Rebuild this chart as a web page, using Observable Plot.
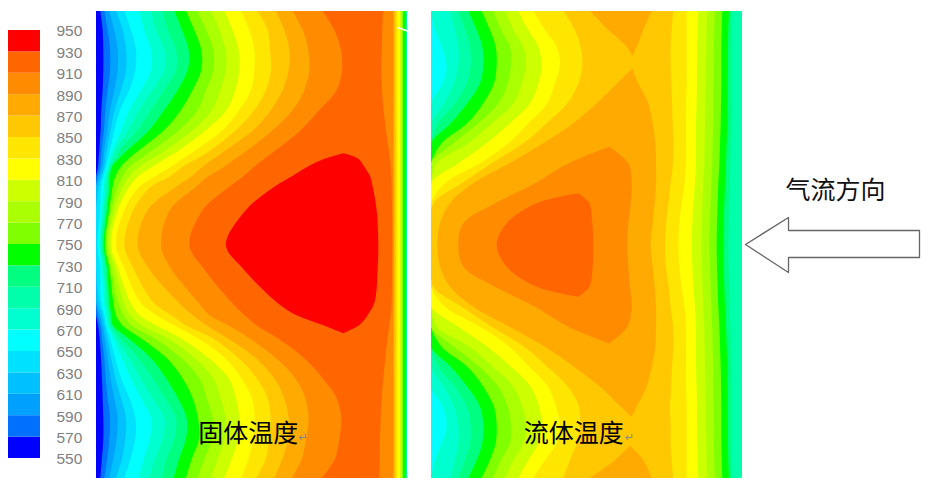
<!DOCTYPE html>
<html><head><meta charset="utf-8">
<script src="https://cdn.jsdelivr.net/npm/d3@7"></script>
<script src="https://cdn.jsdelivr.net/npm/@observablehq/plot@0.6"></script>
<style>
html,body{margin:0;padding:0;background:#fff;width:933px;height:485px;overflow:hidden}
#page{position:relative;width:933px;height:485px}
#page>svg{position:absolute;display:block;background:transparent}
</style></head><body><div id="page"></div>
<script>
// Temperature band limits and their colours, cold to hot
const bandLimits=[550,570,590,610,630,650,670,690,710,730,750,770,790,810,830,850,870,890,910,930,950];
const bandColors=["#0000ff","#0070ff","#00a0ff","#00c0ff","#00e0ff","#00ffff","#00ffd0","#00ffaa","#00ff80","#00ff00","#80ff00","#aaff00","#ccff00","#ffff00","#ffe600","#ffc800","#ffaa00","#ff8c00","#ff6600","#ff0000"];

// Each row: [height, value at left edge, x where each rising isotherm is met,
//            x of row maximum, row maximum, x where each falling isotherm is met, value at right edge]
const solidWall=[895,900,905,912,915,918,921,928,932];
const solidRows=[
[3,552,[13,25,40,60,85,130,165,200,235,270,305,345,385,435,485,540,590,680],770,922,[861,891],705],
[60,553,[20,35,55,80,105,145,180,215,258,295,330,370,410,460,515,565,620,715],790,924,[859,891],705],
[120,553,[22,42,65,90,120,165,205,240,278,316,352,388,428,475,522,580,637,735],795,925,[857,891],705],
[180,553,[22,42,65,90,118,165,205,240,275,316,352,390,430,475,525,578,640,738],795,926,[856,891],705],
[240,553,[20,35,55,75,100,135,170,205,245,290,330,372,418,465,510,560,625,722],790,926,[858,891],705],
[300,553,[16,28,42,56,72,100,130,165,205,255,305,348,392,430,475,525,590,670],780,926,[863,891],705],
[360,553,[14,24,34,44,56,76,98,125,160,205,250,290,330,380,420,472,530,615],765,926,[870,892],705],
[420,553,[10,17,25,33,42,50,60,72,95,130,170,210,250,300,345,390,455,540],745,925,[878,892],705],
[445,555,[8,15,22,29,36,42,50,60,70,100,135,170,210,262,305,355,420,507,690],740,938,[785,882,892],705],
[470,558,[6,13,19,25,30,35,40,44,48,75,100,130,170,225,260,320,385,475,635],740,942,[805,884,892],705],
[500,585,[4,10,16,22,27,32,36,42,58,80,100,125,175,220,285,335,440,585],730,945,[823,886,892],705],
[530,625,[8,15,24,30,36,40,50,65,80,100,130,165,240,300,400,535],700,947,[830,887,893],705],
[600,630,[12,18,23,28,33,40,46,55,66,85,112,155,222,320,450],680,948,[842,888,893],705],
[705,635,[5,11,15,19,23,27,32,38,45,60,85,125,195,280,390],640,949,[847,889,893],705],
[775,630,[12,18,23,28,33,40,46,56,66,85,112,158,224,322,440],680,948,[845,888,893],705],
[875,625,[8,15,24,30,36,40,52,66,82,102,132,170,245,305,405,540],700,947,[836,887,893],705],
[915,570,[5,12,19,25,30,35,40,46,60,82,102,130,180,225,290,340,445,600],735,944,[815,884,892],705],
[945,556,[6,13,19,25,30,35,40,46,50,78,105,135,178,232,268,330,395,480,680],740,938,[790,880,892],705],
[985,553,[11,18,26,34,42,52,62,74,97,135,175,215,255,305,350,395,460,545],742,925,[875,892],705],
[1045,553,[15,25,35,46,58,78,100,128,165,212,256,296,338,388,428,480,540,625],760,925,[868,891],705],
[1105,553,[18,29,43,58,75,104,134,170,210,260,310,352,398,436,482,535,598,680],770,925,[862,891],705],
[1165,553,[20,35,55,75,100,135,170,208,246,290,332,374,420,468,515,565,628,722],785,925,[857,891],705],
[1225,553,[22,42,65,90,118,165,205,240,272,306,350,388,430,476,524,578,638,736],790,925,[854,891],705],
[1285,553,[22,40,62,88,118,162,200,236,270,310,348,386,426,472,520,576,630,730],790,924,[852,891],705],
[1345,553,[18,34,52,78,104,144,178,212,250,288,326,366,408,458,510,560,618,718],785,923,[851,891],705],
[1404,552,[13,25,40,60,85,128,160,198,233,270,305,345,385,435,482,535,588,678],770,922,[850,891],705]
];

const fluidRows=[
[3,675,[60,85,115,155,190,225,265,310,400,480],570,878,[665,730,770,805,832,855,877,897,907],695],
[60,662,[15,75,105,140,180,213,250,295,345,435,535],590,876,[640,725,770,803,830,853,875,895,905],695],
[110,655,[35,85,120,157,197,240,280,325,380,452,590],605,872,[620,722,770,802,829,852,874,894,904],695],
[165,652,[50,85,122,160,200,243,288,335,390,457],608,868,[722,770,801,828,852,874,894,904],695],
[220,660,[38,72,110,150,192,233,275,325,375,445,562],605,879,[625,724,770,801,827,851,874,893,904],695],
[280,671,[42,75,112,160,205,250,300,352,412,500],590,885,[655,726,768,800,826,850,873,893,905],695],
[340,699,[25,62,112,145,185,240,295,350,430],560,888,[668,728,768,798,825,850,872,892,904],695],
[400,733,[35,70,115,170,235,280,340],540,889,[676,730,768,798,824,848,870,890,902],695],
[460,772,[20,85,150,185,238,415],530,895,[595,678,729,768,798,823,847,868,888,901],695],
[520,813,[45,95,130,315],470,905,[605,678,722,764,795,820,844,865,885,899],695],
[580,848,[10,60,195,320],420,915,[478,602,674,715,755,790,818,842,863,883,897],695],
[640,858,[30,100,230],370,925,[487,595,668,708,748,787,816,840,861,881,896],695],
[705,862,[22,85,200],345,928,[490,592,662,705,745,785,815,838,860,880,895],695],
[770,858,[30,100,230],370,925,[488,595,668,708,748,787,816,840,861,881,896],695],
[830,848,[10,60,195,320],420,915,[478,600,674,716,755,790,818,842,863,883,897],695],
[890,813,[45,95,130,315],470,905,[605,678,722,764,795,820,844,865,885,899],695],
[950,772,[20,85,150,185,238,415],530,895,[592,678,729,768,798,823,847,868,888,901],695],
[1010,733,[35,72,118,172,238,282,345],540,889,[676,730,768,798,824,848,870,890,902],695],
[1070,699,[25,62,112,148,188,243,298,352,432],565,887,[665,726,768,798,825,850,872,892,904],695],
[1130,672,[42,75,112,160,205,250,302,354,414,510],585,882,[650,724,768,800,826,850,873,893,905],695],
[1190,660,[38,72,110,150,192,233,277,327,378,447,572],600,875,[620,720,770,801,827,851,874,893,904],695],
[1245,652,[50,85,122,160,200,243,288,335,390,450],608,866,[722,770,801,828,852,874,894,904],695],
[1300,655,[35,85,120,157,197,240,280,325,380,440],600,869,[722,770,802,829,852,874,894,904],695],
[1350,662,[15,75,105,140,180,213,250,295,345,420,555],600,877,[640,725,770,803,830,853,875,895,905],695],
[1404,675,[60,85,115,155,190,225,265,310,400,480],570,878,[665,730,770,805,832,855,877,897,907],695]
];

// Arrow outline, flow label and the small notch at the top of the solid's wall
const arrowX=[745,788,788,919,919,788,788,745];
const arrowY=[244,217,230,230,257,257,272,244];
const notchX=[905,918,933];
const notchY=[52,56,62];

const thresholds=bandLimits.slice(1,-1);
const color={type:"threshold",domain:thresholds,range:bandColors};
const cjk="'Noto Sans CJK SC','Noto Sans CJK JP',sans-serif";

// One closed region per isotherm: where the temperature is at least that level
function toRegions(rows,xStart,xEnd,wall=[]){
  const out=[];
  bandLimits.slice(0,-1).forEach((level,li)=>{
    let seg=0,open=false,prev=null;
    rows.forEach(([y,left,rise,px,pv,fall,right])=>{
      const active=pv>=level||left>=level;
      if(active){
        const firstRise=bandLimits.findIndex(l=>l>left);
        const topFall=d3.bisectLeft(bandLimits,pv)-1;
        const all=fall.concat(wall);
        const a=left>=level?xStart:rise[li-firstRise];
        const b=right>=level?xEnd:all[topFall-li];
        if(!open&&prev){
          const t=(level-prev.pv)/(pv-prev.pv);
          const tx=prev.px+t*(px-prev.px),ty=prev.y+t*(y-prev.y);
          out.push({id:level+"-"+seg,level,y:ty,a:tx,b:tx});
        }
        out.push({id:level+"-"+seg,level,y,a,b});
        open=true;
      }else if(open){
        const t=(level-prev.pv)/(pv-prev.pv);
        const tx=prev.px+t*(px-prev.px),ty=prev.y+t*(y-prev.y);
        out.push({id:level+"-"+seg,level,y:ty,a:tx,b:tx});
        open=false;seg++;
      }
      prev={y,px,pv};
    });
  });
  return out;
}

function panel(regions,x0,x1,left,label,labelX,markX,extra=[]){
  const svg=Plot.plot({
    width:311,height:467,margin:0,
    x:{domain:[x0,x1],range:[0,311],axis:null},
    y:{domain:[3,1404],range:[0,467],axis:null},
    color,
    marks:[
      Plot.areaX(regions,{x1:"a",x2:"b",y:"y",z:"id",fill:"level",stroke:"none",curve:"catmull-rom",clip:true}),
      ...extra,
      Plot.text([label],{x:labelX,y:1270,text:d=>d,fontSize:25,fill:"#000",fontFamily:cjk}),
      Plot.text(["↵"],{x:markX,y:1280,text:d=>d,fontSize:11,fill:"#888",fontFamily:"'DejaVu Sans'"})
    ]
  });
  svg.style.left=left+"px";svg.style.top="11px";
  document.getElementById("page").appendChild(svg);
}

panel(toRegions(solidRows,0,933,solidWall),0,933,96,"固体温度",455,620,
  [Plot.line(d3.zip(notchX,notchY),{x:"0",y:"1",stroke:"#fff",strokeWidth:1.6})]);
panel(toRegions(fluidRows,3,936),3,936,431,"流体温度",430,597);

// Colour key
const bands=d3.pairs(bandLimits).map(([lo,hi])=>({lo,hi}));
const key=Plot.plot({
  width:96,height:485,marginLeft:8,marginRight:56,marginTop:30,marginBottom:27,
  x:{domain:[0,1],axis:null},
  y:{domain:[550,950],axis:null},
  color,
  marks:[
    Plot.rect(bands,{x1:()=>0,x2:()=>1,y1:"lo",y2:"hi",fill:"lo"}),
    Plot.axisY({anchor:"right",ticks:bandLimits,tickSize:0,tickPadding:16,tickFormat:d=>String(d),fontSize:15.5,dy:1,fill:"#808080",fontFamily:"'Liberation Sans'",label:null})
  ]
});
key.style.left="0";key.style.top="0";
document.getElementById("page").appendChild(key);

// Flow direction arrow
const arrow=Plot.plot({
  width:190,height:485,margin:0,
  x:{domain:[743,933],range:[0,190],axis:null},
  y:{domain:[0,485],range:[0,485],axis:null},
  marks:[
    Plot.line(d3.zip(arrowX,arrowY),{x:"0",y:"1",stroke:"#666",strokeWidth:1.3,fill:"#fff",curve:"linear"}),
    Plot.text(["气流方向"],{x:835,y:190,text:d=>d,fontSize:25,fill:"#111",fontFamily:cjk})
  ]
});
arrow.style.left="743px";arrow.style.top="0";
document.getElementById("page").appendChild(arrow);
</script></body></html>
